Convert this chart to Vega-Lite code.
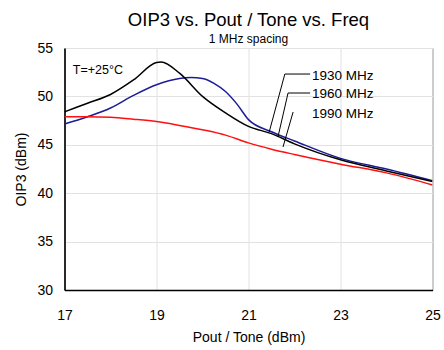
{
  "$schema": "https://vega.github.io/schema/vega-lite/v6.json",
  "width": 368,
  "height": 242,
  "autosize": "none",
  "padding": {"left": 64.5, "top": 48, "right": 11.5, "bottom": 60},
  "config": {
    "font": "Liberation Sans",
    "view": {"stroke": "#6e6e6e", "strokeWidth": 1},
    "axis": {
      "grid": true,
      "gridColor": "#e2e2e2",
      "gridWidth": 1,
      "domainColor": "#000000",
      "domainWidth": 1.6,
      "ticks": false,
      "labelFontSize": 14,
      "labelColor": "#000000",
      "titleFontSize": 14,
      "titleFontWeight": "normal",
      "titleColor": "#000000"
    }
  },
  "title": {
    "text": "OIP3 vs. Pout / Tone vs. Freq",
    "subtitle": "1 MHz spacing",
    "fontSize": 18.5,
    "fontWeight": "normal",
    "color": "#000000",
    "subtitleFontSize": 12,
    "subtitleColor": "#000000",
    "subtitlePadding": 4,
    "anchor": "middle",
    "offset": -3.5
  },
  "layer": [
    {
      "data": {
        "values": [
          {"freq": "1930 MHz", "pout": 17.0, "oip3": 47.15},
          {"freq": "1930 MHz", "pout": 17.5, "oip3": 47.9},
          {"freq": "1930 MHz", "pout": 18.0, "oip3": 48.8},
          {"freq": "1930 MHz", "pout": 18.5, "oip3": 50.1},
          {"freq": "1930 MHz", "pout": 19.0, "oip3": 51.2},
          {"freq": "1930 MHz", "pout": 19.5, "oip3": 51.85},
          {"freq": "1930 MHz", "pout": 19.75, "oip3": 51.95},
          {"freq": "1930 MHz", "pout": 20.0, "oip3": 51.85},
          {"freq": "1930 MHz", "pout": 20.25, "oip3": 51.35},
          {"freq": "1930 MHz", "pout": 20.5, "oip3": 50.5},
          {"freq": "1930 MHz", "pout": 20.75, "oip3": 49.2},
          {"freq": "1930 MHz", "pout": 21.0, "oip3": 47.6},
          {"freq": "1930 MHz", "pout": 21.5, "oip3": 46.35},
          {"freq": "1930 MHz", "pout": 22.0, "oip3": 45.4},
          {"freq": "1930 MHz", "pout": 23.0, "oip3": 43.6},
          {"freq": "1930 MHz", "pout": 24.0, "oip3": 42.5},
          {"freq": "1930 MHz", "pout": 25.0, "oip3": 41.3},
          {"freq": "1960 MHz", "pout": 17.0, "oip3": 48.4},
          {"freq": "1960 MHz", "pout": 17.5, "oip3": 49.3},
          {"freq": "1960 MHz", "pout": 18.0, "oip3": 50.2},
          {"freq": "1960 MHz", "pout": 18.5, "oip3": 51.7},
          {"freq": "1960 MHz", "pout": 19.0, "oip3": 53.5},
          {"freq": "1960 MHz", "pout": 19.1, "oip3": 53.55},
          {"freq": "1960 MHz", "pout": 19.5, "oip3": 52.4},
          {"freq": "1960 MHz", "pout": 20.0, "oip3": 50.0},
          {"freq": "1960 MHz", "pout": 20.5, "oip3": 48.3},
          {"freq": "1960 MHz", "pout": 21.0, "oip3": 46.9},
          {"freq": "1960 MHz", "pout": 21.5, "oip3": 46.15},
          {"freq": "1960 MHz", "pout": 22.0, "oip3": 45.1},
          {"freq": "1960 MHz", "pout": 23.0, "oip3": 43.45},
          {"freq": "1960 MHz", "pout": 24.0, "oip3": 42.3},
          {"freq": "1960 MHz", "pout": 25.0, "oip3": 41.2},
          {"freq": "1990 MHz", "pout": 17.0, "oip3": 47.9},
          {"freq": "1990 MHz", "pout": 17.5, "oip3": 47.9},
          {"freq": "1990 MHz", "pout": 18.0, "oip3": 47.85},
          {"freq": "1990 MHz", "pout": 18.5, "oip3": 47.65},
          {"freq": "1990 MHz", "pout": 19.0, "oip3": 47.4},
          {"freq": "1990 MHz", "pout": 19.5, "oip3": 47.0},
          {"freq": "1990 MHz", "pout": 20.0, "oip3": 46.55},
          {"freq": "1990 MHz", "pout": 20.5, "oip3": 46.0},
          {"freq": "1990 MHz", "pout": 21.0, "oip3": 45.2},
          {"freq": "1990 MHz", "pout": 21.5, "oip3": 44.55},
          {"freq": "1990 MHz", "pout": 22.0, "oip3": 44.0},
          {"freq": "1990 MHz", "pout": 23.0, "oip3": 43.0},
          {"freq": "1990 MHz", "pout": 24.0, "oip3": 42.1},
          {"freq": "1990 MHz", "pout": 25.0, "oip3": 40.85}
        ]
      },
      "mark": {"type": "line", "interpolate": "monotone", "strokeWidth": 1.5, "clip": true},
      "encoding": {
        "x": {
          "field": "pout",
          "type": "quantitative",
          "title": "Pout / Tone (dBm)",
          "scale": {"domain": [17, 25], "nice": false, "zero": false},
          "axis": {"values": [17, 19, 21, 23, 25], "labelPadding": 18, "titlePadding": 8, "labelFlush": false}
        },
        "y": {
          "field": "oip3",
          "type": "quantitative",
          "title": "OIP3 (dBm)",
          "scale": {"domain": [30, 55], "nice": false, "zero": false},
          "axis": {"values": [30, 35, 40, 45, 50, 55], "labelPadding": 12, "titlePadding": 8}
        },
        "color": {
          "field": "freq",
          "type": "nominal",
          "scale": {"domain": ["1930 MHz", "1960 MHz", "1990 MHz"], "range": ["#1c1c96", "#000000", "#ff1010"]},
          "legend": null
        }
      }
    },
    {
      "data": {
        "values": [
          {"x1": 21.79, "y1": 52.31, "x2": 22.34, "y2": 52.31},
          {"x1": 21.79, "y1": 52.31, "x2": 21.45, "y2": 46.32},
          {"x1": 21.86, "y1": 50.35, "x2": 22.34, "y2": 50.35},
          {"x1": 21.86, "y1": 50.35, "x2": 21.64, "y2": 45.81},
          {"x1": 21.97, "y1": 48.39, "x2": 21.75, "y2": 44.77}
        ]
      },
      "mark": {"type": "rule", "color": "#000000", "strokeWidth": 1},
      "encoding": {
        "x": {"field": "x1", "type": "quantitative"},
        "y": {"field": "y1", "type": "quantitative"},
        "x2": {"field": "x2"},
        "y2": {"field": "y2"}
      }
    },
    {
      "data": {
        "values": [
          {"label": "1930 MHz", "x": 22.38, "y": 52.06},
          {"label": "1960 MHz", "x": 22.38, "y": 50.25},
          {"label": "1990 MHz", "x": 22.38, "y": 48.18}
        ]
      },
      "mark": {"type": "text", "align": "left", "baseline": "middle", "color": "#000000", "fontSize": 13.5},
      "encoding": {
        "x": {"field": "x", "type": "quantitative"},
        "y": {"field": "y", "type": "quantitative"},
        "text": {"field": "label"}
      }
    },
    {
      "data": {"values": [{"label": "T=+25°C", "x": 17.18, "y": 52.73}]},
      "mark": {"type": "text", "align": "left", "baseline": "middle", "color": "#000000", "fontSize": 12.5},
      "encoding": {
        "x": {"field": "x", "type": "quantitative"},
        "y": {"field": "y", "type": "quantitative"},
        "text": {"field": "label"}
      }
    }
  ]
}
